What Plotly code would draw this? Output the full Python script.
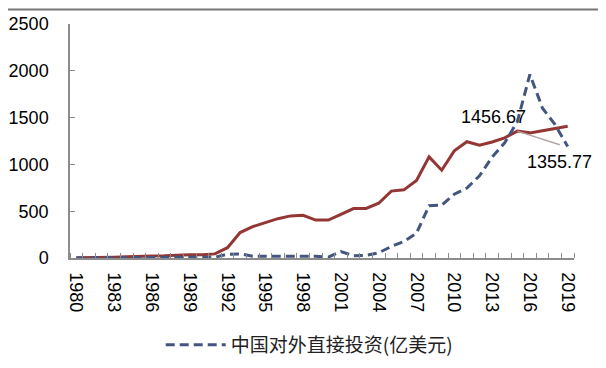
import plotly.graph_objects as go

years = list(range(1980, 2020))

# 红线（无图例）
fdi_in = [2, 3, 4, 9, 14, 20, 22, 23, 32, 34,
          35, 44, 110, 272, 335, 375, 420, 450, 456, 405,
          405, 465, 528, 530, 585, 715, 728, 828, 1080, 938,
          1145, 1242, 1206, 1240, 1283, 1355.77, 1337, 1360, 1385, 1408]

# 中国对外直接投资(亿美元)
ofdi = [0, 0, 0.4, 0.9, 1.3, 6.3, 4.5, 6.5, 8.5, 7.8,
        8.3, 9.1, 40, 44, 20, 20, 21, 26, 26, 18,
        9, 69, 25, 28, 55, 123, 176, 265, 559, 565,
        682, 748, 878, 1078, 1231, 1456.67, 1961, 1600, 1425, 1190]

tick_years = list(range(1980, 2020, 3))
tick_labels = [str(y) for y in tick_years]

label_year = 2015
label_top = "1456.67"
label_bottom = "1355.77"
leader_x = [2015, 2018.37]
leader_y = [1355.77, 1210]

num_font = dict(family="Liberation Sans, Arial, sans-serif", size=18, color="#000000")
axis_gray = "#8c8c8c"

fig = go.Figure()
fig.add_trace(go.Scatter(
    x=years, y=fdi_in, mode="lines", showlegend=False,
    line=dict(color="#943634", width=3), hoverinfo="skip"))
fig.add_trace(go.Scatter(
    x=leader_x, y=leader_y, mode="lines", showlegend=False,
    line=dict(color="#b3a4a4", width=1.5), hoverinfo="skip"))
fig.add_trace(go.Scatter(
    x=years, y=ofdi, mode="lines", name="中国对外直接投资(亿美元)",
    line=dict(color="#44567f", width=3, dash="9px,5px")))

fig.add_annotation(x=label_year, y=ofdi[years.index(label_year)], text=label_top,
                   showarrow=False, xshift=-24, yshift=5, font=num_font)
fig.add_annotation(x=label_year, y=fdi_in[years.index(label_year)], text=label_bottom,
                   showarrow=False, xshift=42, yshift=-31, font=num_font)

fig.add_shape(type="line", xref="paper", yref="paper",
              x0=-62/504, x1=1+40/504, y0=1+15/240, y1=1+15/240,
              line=dict(color="#777777", width=2))

fig.update_xaxes(
    range=[1979.5, 2019.5], tickmode="array", tickvals=tick_years, ticktext=tick_labels,
    tickangle=90, ticks="", showgrid=False, zeroline=False, automargin=False,
    showline=True, linecolor=axis_gray, linewidth=1.5,
    tickfont=num_font, ticklabelstandoff=9,
    minor=dict(tickmode="linear", tick0=1979.5, dtick=1, ticks="inside",
               ticklen=5, tickcolor=axis_gray, tickwidth=1.2, showgrid=False))
fig.update_yaxes(
    range=[0, 2500], dtick=500, ticks="inside", ticklen=5, tickcolor=axis_gray,
    showgrid=False, zeroline=False, showline=True, linecolor=axis_gray, linewidth=1.5,
    tickfont=num_font, ticklabelstandoff=16, automargin=False)

fig.update_layout(
    width=606, height=368, autosize=False,
    margin=dict(l=62, r=40, t=16, b=112),
    paper_bgcolor="white", plot_bgcolor="white",
    showlegend=True,
    legend=dict(x=0.18, y=-0.371, xanchor="left", yanchor="middle",
                orientation="h", itemwidth=60,
                font=dict(family="Noto Sans CJK SC, sans-serif", size=19, color="#222222"),
                bgcolor="rgba(0,0,0,0)"),
)

fig.write_html("out.html")
